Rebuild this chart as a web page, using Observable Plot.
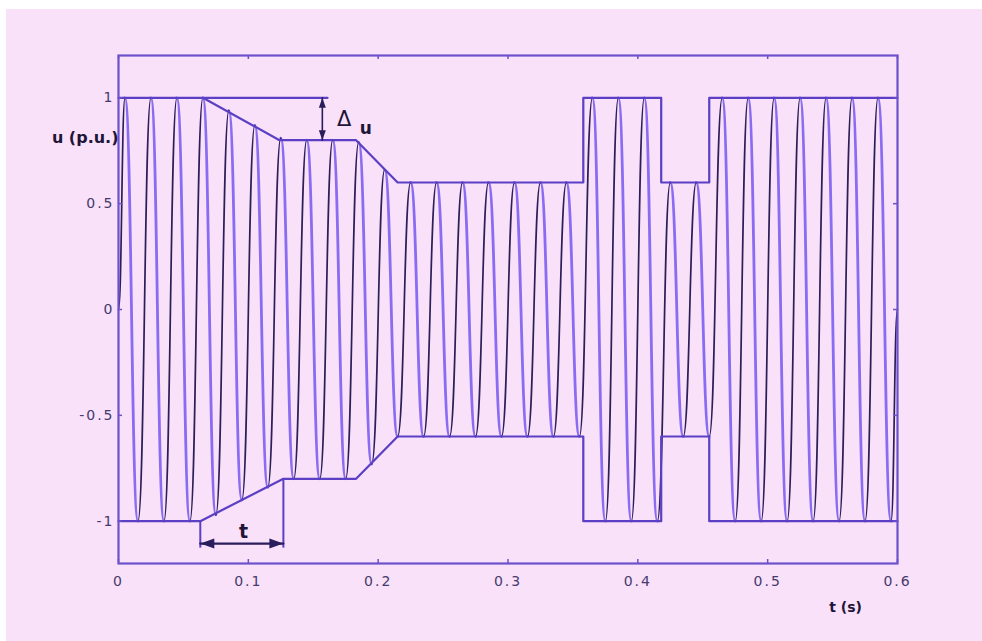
<!DOCTYPE html>
<html><head><meta charset="utf-8">
<script src="https://cdn.jsdelivr.net/npm/d3@7"></script>
<script src="https://cdn.jsdelivr.net/npm/@observablehq/plot@0.6"></script>
<style>
html,body{margin:0;padding:0;background:#fff;width:982px;height:641px;overflow:hidden;}
#bg{position:absolute;left:6px;top:9px;right:0;bottom:0;background:#f9e1f9;}
#chart{position:absolute;left:0;top:0;}
#chart g[aria-label$="tick label"] text{letter-spacing:2px;}
</style></head><body><div id="bg"></div><div id="chart"></div>
<script>
// axis ticks
const timeTicks = [0, 0.1, 0.2, 0.3, 0.4, 0.5, 0.6];
const voltTicks = [-1, -0.5, 0, 0.5, 1];

// 50 Hz wave: one peak per 10 ms half cycle (magnitudes)
const halfPeriod = 0.01;
const halfCyclePeaks = [
  1, 1, 1, 1, 1, 1, 1,
  0.97, 0.94, 0.90, 0.87, 0.84, 0.81, 0.80, 0.80, 0.80, 0.80, 0.80, 0.79, 0.73, 0.66, 0.60,
  0.6, 0.6, 0.6, 0.6, 0.6, 0.6, 0.6, 0.6, 0.6, 0.6, 0.6, 0.6, 0.6, 0.6,
  1, 1, 1, 1, 1, 1,
  0.6, 0.6, 0.6, 0.6,
  1, 1, 1, 1, 1, 1, 1, 1, 1, 1, 1, 1, 1, 1
];

// envelope breakpoints
const envTopT = [0, 0.065, 0.124, 0.183, 0.215, 0.358, 0.358, 0.418, 0.418, 0.455, 0.455, 0.6];
const envTopU = [1, 1, 0.8, 0.8, 0.6, 0.6, 1, 1, 0.6, 0.6, 1, 1];
const envBotT = [0, 0.063, 0.127, 0.183, 0.215, 0.358, 0.358, 0.418, 0.418, 0.455, 0.455, 0.6];
const envBotU = [-1, -1, -0.8, -0.8, -0.6, -0.6, -1, -1, -0.6, -0.6, -1, -1];

// annotations
const deltaRefT = [0.065, 0.161];
const deltaArrowT = 0.157;
const deltaArrowU = [1, 0.8];
const tMarkT = [0.063, 0.127];
const tMarkTopU = [-1, -0.8];
const tMarkBottomU = -1.125;
const tArrowU = -1.106;
const boldLabels = [
  {text: "u (p.u.)", t: 0, u: 0.81, size: 16, anchor: "end"},
  {text: "t (s)", t: 0.56, u: -1.41, size: 14, anchor: "middle"},
  {text: "u", t: 0.1904, u: 0.854, size: 17, anchor: "middle"},
  {text: "t", t: 0.0964, u: -1.052, size: 19, anchor: "middle"}
];
const plainLabels = [
  {text: "Δ", t: 0.1739, u: 0.897, size: 21, anchor: "middle"}
];

const purple = "#8a6cf2", dark = "#2c1e58", envColor = "#5b3fc4", frameColor = "#6b52cc", ann = "#2a1d5c", labelColor = "#463a6e";

const peaks = halfCyclePeaks.map((a, k) => ({t: halfPeriod * (k + 0.5), u: k % 2 === 0 ? a : -a}));
const wavePts = [{t: 0, u: 0}, ...peaks, {t: 0.6, u: 0}];
const segs = [];
for (let i = 0; i < wavePts.length - 1; i++) {
  const a = wavePts[i], b = wavePts[i + 1], rising = b.u > a.u;
  segs.push({seg: i, t: a.t, u: a.u, rising}, {seg: i, t: b.t, u: b.u, rising});
}
const envTop = envTopT.map((t, i) => ({t, u: envTopU[i]}));
const envBot = envBotT.map((t, i) => ({t, u: envBotU[i]}));

function head(w, l) {
  return {draw(ctx) { ctx.moveTo(0, 0); ctx.lineTo(-w / 2, l); ctx.lineTo(w / 2, l); ctx.closePath(); }};
}
const smallHead = head(7, 10), bigHead = head(10, 14);

const W = 982, H = 641, mL = 118, mR = 85, mT = 55, mB = 78;
const fw = W - mL - mR, fh = H - mT - mB;

const chart = Plot.plot({
  width: W, height: H,
  marginLeft: mL, marginRight: mR, marginTop: mT, marginBottom: mB,
  x: {domain: [0, 0.6]},
  y: {domain: [-1.2, 1.2]},
  style: {background: "transparent", fontFamily: "DejaVu Sans", fontSize: "14px", color: labelColor},
  marks: [
    Plot.line(segs.filter(d => !d.rising), {x: "t", y: "u", z: "seg", curve: "bump-x", stroke: purple, strokeWidth: 2.8}),
    Plot.line(segs.filter(d => d.rising), {x: "t", y: "u", z: "seg", curve: "bump-x", stroke: dark, strokeWidth: 1.7}),
    Plot.line(envTop, {x: "t", y: "u", stroke: envColor, strokeWidth: 2.2}),
    Plot.line(envBot, {x: "t", y: "u", stroke: envColor, strokeWidth: 2.2}),
    Plot.line([[deltaRefT[0], 1], [deltaRefT[1], 1]], {stroke: envColor, strokeWidth: 2.2}),
    Plot.line([[deltaArrowT, deltaArrowU[0]], [deltaArrowT, deltaArrowU[1]]], {stroke: ann, strokeWidth: 1.6}),
    Plot.dot([[deltaArrowT, deltaArrowU[0]]], {x: d => d[0], y: d => d[1], symbol: smallHead, fill: ann, stroke: "none"}),
    Plot.dot([[deltaArrowT, deltaArrowU[1]]], {x: d => d[0], y: d => d[1], symbol: smallHead, rotate: 180, fill: ann, stroke: "none"}),
    Plot.link(tMarkT, {x1: d => d, x2: d => d, y1: (d, i) => tMarkTopU[i], y2: () => tMarkBottomU, stroke: envColor, strokeWidth: 2}),
    Plot.line([[tMarkT[0], tArrowU], [tMarkT[1], tArrowU]], {stroke: ann, strokeWidth: 2.2}),
    Plot.dot([[tMarkT[0], tArrowU]], {x: d => d[0], y: d => d[1], symbol: bigHead, rotate: -90, fill: ann, stroke: "none"}),
    Plot.dot([[tMarkT[1], tArrowU]], {x: d => d[0], y: d => d[1], symbol: bigHead, rotate: 90, fill: ann, stroke: "none"}),
    // inward ticks on all four sides
    Plot.ruleX(timeTicks, {x: d => d, insetTop: fh - 4, stroke: frameColor, strokeWidth: 1.5}),
    Plot.ruleX(timeTicks, {x: d => d, insetBottom: fh - 4, stroke: frameColor, strokeWidth: 1.5}),
    Plot.ruleY(voltTicks, {y: d => d, insetRight: fw - 4, stroke: frameColor, strokeWidth: 1.5}),
    Plot.ruleY(voltTicks, {y: d => d, insetLeft: fw - 4, stroke: frameColor, strokeWidth: 1.5}),
    Plot.frame({stroke: frameColor, strokeWidth: 2.2}),
    Plot.axisX(timeTicks, {tickSize: 0, tickPadding: 13, tickFormat: d => String(d), label: null, fill: labelColor}),
    Plot.axisY(voltTicks, {tickSize: 0, tickPadding: 4, tickFormat: d => String(d), label: null, fill: labelColor}),
    Plot.text(boldLabels, {x: "t", y: "u", text: "text", fontSize: d => d.size, fontWeight: "bold", textAnchor: "end", filter: d => d.anchor === "end", fill: "#1e1538"}),
    Plot.text(boldLabels, {x: "t", y: "u", text: "text", fontSize: d => d.size, fontWeight: "bold", textAnchor: "middle", filter: d => d.anchor === "middle", fill: "#1e1538"}),
    Plot.text(plainLabels, {x: "t", y: "u", text: "text", fontSize: d => d.size, fontWeight: "normal", textAnchor: "middle", fill: "#1e1538"})
  ]
});
document.getElementById("chart").appendChild(chart);
</script></body></html>
